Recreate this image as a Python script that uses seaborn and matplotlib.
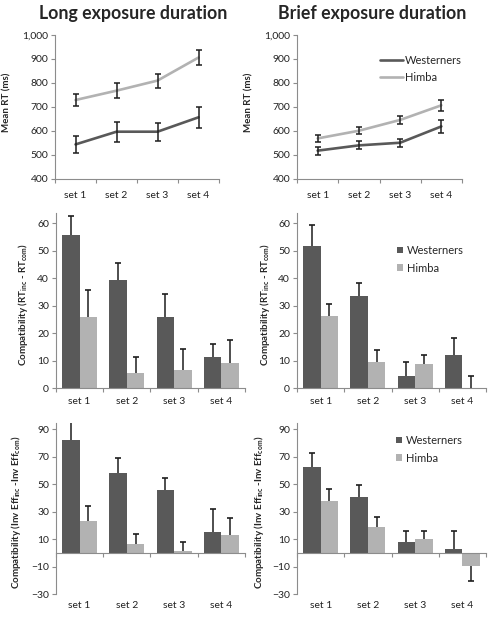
import numpy as np
import pandas as pd
import seaborn as sns
import matplotlib.pyplot as plt
from matplotlib.ticker import FuncFormatter

# data
sets = ['set 1', 'set 2', 'set 3', 'set 4']
groups = ['Westerners', 'Himba']

# mean RT (ms) with error bars
rt_long_west = [544, 597, 597, 657]
rt_long_west_err = [35, 42, 37, 43]
rt_long_himba = [729, 768, 810, 906]
rt_long_himba_err = [27, 30, 29, 32]

rt_brief_west = [518, 540, 551, 619]
rt_brief_west_err = [17, 17, 17, 26]
rt_brief_himba = [569, 601, 646, 707]
rt_brief_himba_err = [16, 15, 17, 22]

# compatibility effect on RT (signed error: negative = drawn downwards)
comp_long_west = [55.6, 39.6, 25.8, 11.4]
comp_long_west_err = [7.1, 6.0, 8.5, 4.8]
comp_long_himba = [26.1, 5.6, 6.8, 9.2]
comp_long_himba_err = [9.8, 5.9, 7.4, 8.4]

comp_brief_west = [51.9, 33.5, 4.4, 12.2]
comp_brief_west_err = [7.4, 4.7, 5.4, 6.1]
comp_brief_himba = [26.2, 9.7, 8.8, -0.3]
comp_brief_himba_err = [4.5, 4.4, 3.3, 4.7]

# compatibility effect on inverse efficiency
ie_long_west = [81.8, 58.4, 45.5, 14.8]
ie_long_west_err = [13.1, 10.9, 9.2, 17.4]
ie_long_himba = [23.4, 6.1, 1.2, 12.8]
ie_long_himba_err = [10.4, 7.8, 6.8, 12.8]

ie_brief_west = [62.2, 40.5, 8.2, 2.9]
ie_brief_west_err = [10.5, 8.5, 7.5, 13.1]
ie_brief_himba = [37.6, 19.0, 9.9, -9.4]
ie_brief_himba_err = [8.5, 7.1, 5.8, -11.2]

west_col = '#595959'
himba_col = '#b2b2b2'
axis_col = '#8c8c8c'
err_col = '#1e1e1e'

sns.set_style('white')
plt.rcParams['font.family'] = ['Lato', 'DejaVu Sans']
plt.rcParams['mathtext.default'] = 'regular'

fig = plt.figure(figsize=(4.89, 6.18), dpi=100)


def style_axes(ax):
    sns.despine(ax=ax)
    for s in ['left', 'bottom']:
        ax.spines[s].set_color(axis_col)
        ax.spines[s].set_linewidth(0.8)
    ax.tick_params(axis='y', which='both', left=True, length=3, width=0.8,
                   color=axis_col, labelsize=7.5, pad=2, labelcolor='#222222')
    ax.tick_params(axis='x', labelsize=7.5, labelcolor='#222222')


def line_panel(rect, west, west_err, himba, himba_err, show_legend):
    ax = fig.add_axes(rect)
    df = pd.DataFrame({
        'set': sets * 2,
        'rt': west + himba,
        'group': ['Westerners'] * 4 + ['Himba'] * 4,
    })
    sns.lineplot(data=df, x='set', y='rt', hue='group', hue_order=groups,
                 palette=[west_col, himba_col], linewidth=1.9, ax=ax,
                 legend=show_legend)
    ax.errorbar(sets, west, yerr=west_err, fmt='none', ecolor=err_col,
                elinewidth=1.1, capsize=2.5, capthick=1.1)
    ax.errorbar(sets, himba, yerr=himba_err, fmt='none', ecolor=err_col,
                elinewidth=1.1, capsize=2.5, capthick=1.1)
    ax.set_xlim(-0.5, 3.5)
    ax.set_ylim(400, 1000)
    ax.set_yticks(np.arange(400, 1001, 100))
    ax.yaxis.set_major_formatter(FuncFormatter(lambda v, p: f'{v:,.0f}'))
    style_axes(ax)
    ax.set_xticks(np.arange(-0.5, 4, 1), minor=True)
    ax.tick_params(axis='x', which='major', length=0, pad=9)
    ax.tick_params(axis='x', which='minor', bottom=True, length=3,
                   width=0.8, color=axis_col)
    ax.set_xlabel('')
    ax.set_ylabel('Mean RT (ms)', fontsize=7, weight='bold')
    ax.yaxis.set_label_coords(-0.265, 0.53)
    if show_legend:
        ax.legend(loc='upper left', bbox_to_anchor=(0.5, 0.86), frameon=False,
                  fontsize=8, handlelength=2.1, handletextpad=0.15,
                  labelspacing=0.55, borderaxespad=0, borderpad=0)
    return ax


def bar_panel(rect, west, west_err, himba, himba_err, ylim, yticks, ylabel,
              label_x, label_pad, show_legend, legend_anchor):
    ax = fig.add_axes(rect)
    df = pd.DataFrame({
        'set': sets * 2,
        'value': west + himba,
        'group': ['Westerners'] * 4 + ['Himba'] * 4,
    })
    sns.barplot(data=df, x='set', y='value', hue='group', hue_order=groups,
                palette=[west_col, himba_col], errorbar=None, width=0.74,
                gap=0, linewidth=0, ax=ax, legend=show_legend)
    # one-sided error bars
    for cont, vals, errs in zip(ax.containers, [west, himba], [west_err, himba_err]):
        xs = [p.get_x() + p.get_width() / 2 for p in cont.patches]
        vals = np.array(vals)
        ends = vals + np.array(errs)
        ax.vlines(xs, vals, ends, color=err_col, linewidth=1.1, zorder=3)
        ax.scatter(xs, ends, marker='_', s=22, linewidths=1.2, color=err_col,
                   zorder=3)
    ax.set_xlim(-0.5, 3.5)
    ax.set_ylim(*ylim)
    ax.set_yticks(yticks)
    style_axes(ax)
    ax.spines['bottom'].set_position(('data', 0))
    ax.set_xticks(np.arange(-0.5, 4, 1), minor=True)
    ax.tick_params(axis='x', which='major', length=0, pad=label_pad)
    ax.tick_params(axis='x', which='minor', bottom=True, length=3,
                   width=0.8, color=axis_col)
    ax.set_xlabel('')
    ax.set_ylabel(ylabel, fontsize=7, weight='bold')
    ax.yaxis.set_label_coords(label_x, 0.48)
    if show_legend:
        ax.legend(loc='upper left', bbox_to_anchor=legend_anchor, frameon=False,
                  fontsize=8, handlelength=0.55, handleheight=0.55,
                  handletextpad=0.35, labelspacing=0.6, borderaxespad=0,
                  borderpad=0)
    return ax


rt_label = 'Compatibility (RT$_{inc}$ - RT$_{com}$)'
ie_label = 'Compatibility (Inv Eff$_{inc}$ -Inv Eff$_{com}$)'

line_panel([0.1125, 0.7104, 0.3354, 0.2330], rt_long_west, rt_long_west_err,
           rt_long_himba, rt_long_himba_err, False)
line_panel([0.6074, 0.7104, 0.3374, 0.2330], rt_brief_west, rt_brief_west_err,
           rt_brief_himba, rt_brief_himba_err, True)

bar_panel([0.1145, 0.3714, 0.3865, 0.2832], comp_long_west, comp_long_west_err,
          comp_long_himba, comp_long_himba_err, (0, 63.6), np.arange(0, 61, 10),
          rt_label, -0.14, 6, False, None)
bar_panel([0.6074, 0.3714, 0.3865, 0.2832], comp_brief_west, comp_brief_west_err,
          comp_brief_himba, comp_brief_himba_err, (0, 63.6), np.arange(0, 61, 10),
          rt_label, -0.13, 6, True, (0.53, 0.82))

bar_panel([0.1145, 0.0388, 0.3865, 0.2767], ie_long_west, ie_long_west_err,
          ie_long_himba, ie_long_himba_err, (-30, 94.4), np.arange(-30, 91, 20),
          ie_label, -0.175, 35, False, None)
bar_panel([0.6074, 0.0388, 0.3865, 0.2767], ie_brief_west, ie_brief_west_err,
          ie_brief_himba, ie_brief_himba_err, (-30, 94.4), np.arange(-30, 91, 20),
          ie_label, -0.165, 35, True, (0.525, 0.93))

fig.text(133 / 489, 1 - 13 / 618, 'Long exposure duration', ha='center',
         va='center', fontsize=12.8, weight='bold')
fig.text(372 / 489, 1 - 13 / 618, 'Brief exposure duration', ha='center',
         va='center', fontsize=12.8, weight='bold')

fig.savefig('out.png', dpi=100)
